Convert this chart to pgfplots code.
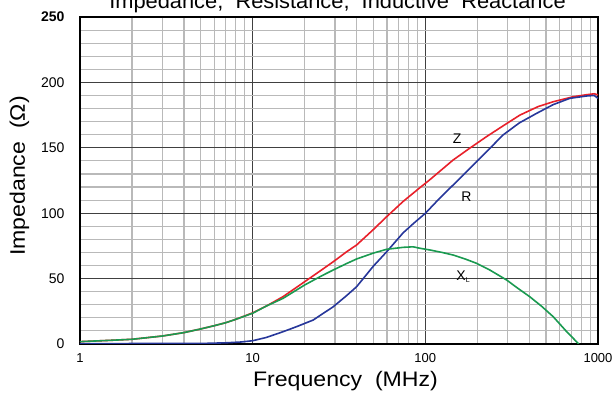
\documentclass[border=0pt]{standalone}
\usepackage{fontspec}
\setmainfont{Liberation Sans}
\usepackage{pgfplots}
\pgfplotsset{compat=1.18}
\definecolor{zred}{HTML}{E8202A}
\definecolor{rblue}{HTML}{27379A}
\definecolor{xgreen}{HTML}{1A9A50}
\begin{document}
\begin{tikzpicture}
\begin{axis}[
  at={(0pt,0pt)}, anchor=south west,
  scale only axis, width=518pt, height=327pt,
  xmode=log, xmin=1, xmax=1000, ymin=0, ymax=250,
  log basis x=10,
  xtick={1,10,100,1000}, xticklabels={1,10,100,1000},
  minor xtick={2,3,4,5,6,7,8,9,20,30,40,50,60,70,80,90,200,300,400,500,600,700,800,900},
  ytick={0,50,100,150,200,250},
  yticklabels={0,50,100,150,200,\textbf{250}},
  minor ytick={10,20,30,40,60,70,80,90,110,120,130,140,160,170,180,190,210,220,230,240},
  grid=both,
  major grid style={black!75, line width=0.8pt},
  minor grid style={gray!55, line width=1.1pt},
  major tick length=0pt, minor tick length=0pt,
  axis line style={black, line width=1.3pt},
  /pgf/number format/assume math mode=true,
  xticklabel style={font=\fontsize{13}{15}\selectfont, yshift=-6pt},
  yticklabel style={font=\fontsize{14}{16}\selectfont, xshift=-12pt},
]
\addplot[zred, line width=1.6pt] coordinates {
(1,1.8) (1.5,2.8) (2,3.6) (3,6.1) (4,8.7) (5,11.5) (6,14) (7,16.3) (8,18.9)
(10,23.8) (12,29) (15,36.2) (20,47.6) (25,56.5) (29.3,62.9) (35,70.5) (40,75.7)
(50,87.5) (59.7,97.3) (74.4,109) (93,119.5) (106,125.5) (125,133.5) (145,140.7)
(180,149.5) (226,158.5) (280,166.5) (353,175) (450,181.5) (550,185.2) (718,189)
(850,190.5) (950,191.3) (1000,190.5)
};
\addplot[rblue, line width=1.6pt] coordinates {
(1,0.3) (5,0.4) (7,0.9) (8.5,1.5) (10,2.5) (12,5) (15,9.4) (18,13.3) (22.4,18.3)
(29.3,28.5) (35,37) (40,43.8) (50,59.5) (59.7,70.5) (74.4,85) (86,92.5) (100,99.9)
(121,111.4) (150,123.5) (181,134.3) (230,148) (282,159.8) (350,169) (442,176.4)
(550,183) (687,187.8) (857,189.6) (950,190) (1000,187.8)
};
\addplot[xgreen, line width=1.6pt] coordinates {
(1,1.8) (1.5,2.8) (2,3.6) (3,6.1) (4,8.7) (5,11.5) (6,14) (7,16.3) (8,18.9)
(10,23.5) (12,29) (15,34.9) (20,45.1) (25,52) (29.3,56.6) (35,61.5) (40,65)
(50,69.5) (59.7,72.4) (74.4,73.9) (85,74.3) (93,73.2) (106,71.9) (125,70)
(145,68) (170,65) (198,61.7) (236,56.6) (296,48.9) (340,43) (402,36.2) (470,29)
(550,20.9) (659,9.4) (774,0)
};
\node[font=\fontsize{14}{16}\selectfont] at (axis cs:153,157.3) {Z};
\node[font=\fontsize{14}{16}\selectfont] at (axis cs:173,112.6) {R};
\node[font=\fontsize{14}{16}\selectfont] at (axis cs:166,51.5) {X\textsubscript{\fontsize{7}{8}\selectfont L}};
\end{axis}
\node[anchor=base, font=\fontsize{21}{25}\selectfont] at (257.5pt,335pt) {\scalebox{1.04}[1]{Impedance,\ \ Resistance,\ \ Inductive\ \ Reactance}};
\node[anchor=base, font=\fontsize{21}{25}\selectfont] at (265.5pt,-42.7pt) {\scalebox{1.1}[1]{Frequency\ \ (MHz)}};
\node[anchor=base, rotate=90, font=\fontsize{21}{25}\selectfont] at (-55pt,168pt) {\scalebox{1.1}[1]{Impedance\ \ (\symbol{"03A9})}};
\pgfresetboundingbox
\path (-80pt,-51pt) rectangle (536pt,344pt);
\end{tikzpicture}
\end{document}
